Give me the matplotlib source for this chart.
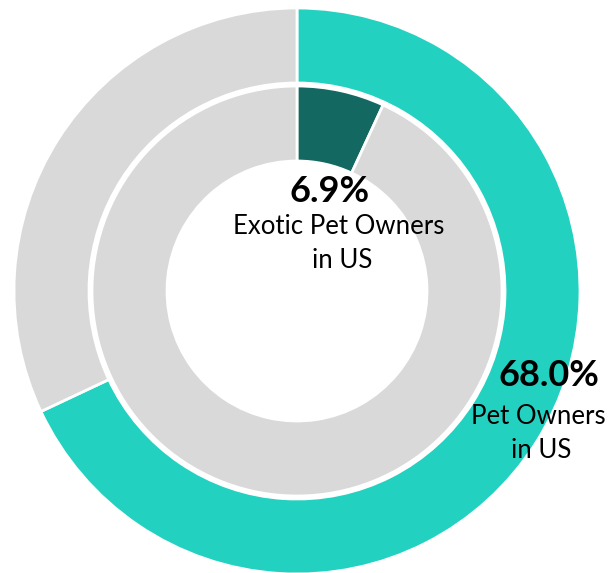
import matplotlib.pyplot as plt

# outer ring: pet owners in US, inner ring: exotic pet owners
outer_vals = [68.0, 32.0]
inner_vals = [6.9, 93.1]
outer_colors = ["#22d1c0", "#d9d9d9"]
inner_colors = ["#136961", "#d9d9d9"]
inner_label = ["6.9%", "Exotic Pet Owners", "in US"]
outer_label = ["68.0%", "Pet Owners", "in US"]

plt.rcParams["font.family"] = ["Lato", "DejaVu Sans"]

fig = plt.figure(figsize=(6.08, 5.73), dpi=100)
ax = fig.add_axes([0, 0, 1, 1])

cx, cy = 297, 573 - 291

ax.pie(outer_vals, colors=outer_colors, radius=283, center=(cx, cy),
       startangle=90, counterclock=False,
       wedgeprops=dict(width=75, edgecolor="white", linewidth=2))
ax.pie(inner_vals, colors=inner_colors, radius=205, center=(cx, cy),
       startangle=90, counterclock=False,
       wedgeprops=dict(width=75, edgecolor="white", linewidth=2))
ax.set_xlim(0, 608)
ax.set_ylim(0, 573)
ax.set_aspect("equal")
ax.axis("off")

ax.text(330, 573 - 191, inner_label[0], fontsize=26, fontweight="bold",
        ha="center", va="center")
ax.text(339, 573 - 226, inner_label[1], fontsize=18.5, ha="center", va="center")
ax.text(342, 573 - 260, inner_label[2], fontsize=18.5, ha="center", va="center")

ax.text(549, 573 - 375, outer_label[0], fontsize=26, fontweight="bold",
        ha="center", va="center")
ax.text(538, 573 - 416, outer_label[1], fontsize=18.5, ha="center", va="center")
ax.text(541, 573 - 451, outer_label[2], fontsize=18.5, ha="center", va="center")

fig.savefig("out.png", dpi=100)
